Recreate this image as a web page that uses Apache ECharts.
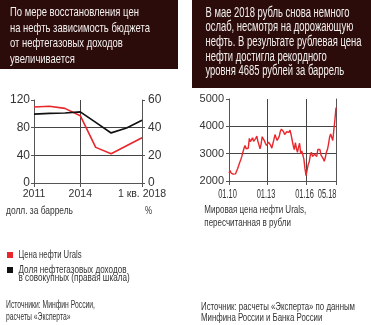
<!DOCTYPE html>
<html><head><meta charset="utf-8">
<script src="https://cdn.jsdelivr.net/npm/echarts@6/dist/echarts.min.js"></script>
<style>html,body{margin:0;padding:0;background:#fff}#c{width:371px;height:325px}</style>
</head><body><div id="c"></div>
<script>
// Left chart data
var yearCats = ['2011','2012','2013','2014','2015','2016','2017','1 кв. 2018'];
var uralsUsd = [109.8, 111.0, 107.9, 97.3, 51.5, 42.2, 53.8, 65.5];
var oilGasShare = [49.8, 50.4, 50.6, 51.4, 43.8, 36.2, 39.8, 45.4];
var leftTicksShown = [0, 3, 7];

// Right chart data (monthly, Jan 2010 – May 2018), rubles per barrel
var rubStartYear = 2010, rubStartMonth = 1, rubCount = 101;
var uralsRub2010 = [2300, 2380, 2290, 2320, 2250, 2220, 2260, 2300, 2450, 2560, 2680, 2780];
var uralsRub2011 = [2900, 3050, 3200, 3300, 3180, 3220, 3200, 3560, 3440, 3500, 3580, 3450];
var uralsRub2012 = [3500, 3560, 3640, 3450, 3320, 3180, 3350, 3620, 3550, 3480, 3380, 3300];
var uralsRub2013 = [3350, 3420, 3460, 3300, 3200, 3250, 3520, 3700, 3580, 3480, 3560, 3640];
var uralsRub2014 = [3820, 3900, 3850, 3800, 3700, 3760, 3800, 3740, 3780, 3860, 3700, 3500];
var uralsRub2015 = [3300, 3150, 3400, 3200, 3050, 3250, 3380, 3000, 3100, 2950, 2800, 2450];
var uralsRub2016 = [2200, 2400, 2600, 2700, 2950, 3050, 2900, 2920, 2980, 3050, 2900, 3150];
var uralsRub2017 = [3200, 3150, 2950, 2900, 2820, 2720, 2850, 3050, 3150, 3350, 3600, 3720];
var uralsRub2018 = [3650, 3480, 3880, 4250, 4685];
var rightTicksShown = [0, 36, 72, 100];
var rightLabelText = ['01.10', '01.13', '01.16', '05.18'];

var uralsRub = [].concat(uralsRub2010, uralsRub2011, uralsRub2012, uralsRub2013,
  uralsRub2014, uralsRub2015, uralsRub2016, uralsRub2017, uralsRub2018);
var months = [];
for (var i = 0; i < rubCount; i++) {
  var mm = (rubStartMonth - 1 + i) % 12 + 1;
  var yy = rubStartYear + Math.floor((rubStartMonth - 1 + i) / 12);
  months.push((mm < 10 ? '0' + mm : '' + mm) + '.' + String(yy).slice(2));
}

var RED = '#e8262b';
var GRID = '#444';
var AX = '#555';
var LBL = '#333';
var FONT = '"Liberation Sans", Arial, sans-serif';
var BOX = '#2b0c0b';

var mctx = document.createElement('canvas').getContext('2d');
function measure(s, size) { mctx.font = size + 'px ' + FONT; return mctx.measureText(s).width; }

// A block of text lines, condensed horizontally so that one reference line spans refWidth
function block(x, yCenters, lines, size, color, refIdx, refWidth) {
  var sx = refWidth / measure(lines[refIdx], size);
  return lines.map(function (s, k) {
    return {type: 'text', x: x, y: yCenters[k], scaleX: sx, scaleY: 1, silent: true,
      style: {text: s, fill: color, font: size + 'px ' + FONT, textAlign: 'left', textVerticalAlign: 'middle'}};
  });
}

var chart = echarts.init(document.getElementById('c'), null, {renderer: 'canvas'});

var graphics = [
  {type: 'rect', shape: {x: 0, y: 0, width: 178, height: 69}, style: {fill: BOX}, silent: true},
  {type: 'rect', shape: {x: 192, y: 0, width: 179, height: 88}, style: {fill: BOX}, silent: true},
  {type: 'rect', shape: {x: 7, y: 252, width: 6, height: 6}, style: {fill: RED}, silent: true},
  {type: 'rect', shape: {x: 7, y: 267, width: 6, height: 6}, style: {fill: '#111'}, silent: true}
].concat(
  block(10, [12.7, 28.3, 43.7, 59], ['По мере восстановления цен', 'на нефть зависимость бюджета',
    'от нефтегазовых доходов', 'увеличивается'], 13, '#f4f0ee', 1, 140),
  block(205.5, [12.7, 27.3, 41.9, 56.7, 71.2], ['В мае 2018 рубль снова немного',
    'ослаб, несмотря на дорожающую', 'нефть. В результате рублевая цена',
    'нефти достигла рекордного', 'уровня 4685 рублей за баррель'], 14, '#f4f0ee', 2, 156),
  block(6, [211.5], ['долл. за баррель'], 10.5, LBL, 0, 67),
  block(145, [211.5], ['%'], 10.5, LBL, 0, 7),
  block(18.5, [254.5], ['Цена нефти Urals'], 11, LBL, 0, 63),
  block(18.5, [269.5, 278.2], ['Доля нефтегазовых доходов', 'в совокупных (правая шкала)'], 11, LBL, 0, 108),
  block(6, [305.2, 316.8], ['Источники: Минфин России,', 'расчеты «Эксперта»'], 11, LBL, 0, 89),
  block(204.3, [210, 222.5], ['Мировая цена нефти Urals,', 'пересчитанная в рубли'], 11, LBL, 0, 102),
  block(201, [306.7, 317.5], ['Источник: расчеты «Эксперта» по данным', 'Минфина России и Банка России'], 11, LBL, 0, 154)
);

var labelFont = 12.5;
var labelScale = 18.7 / measure('01.10', labelFont);

var option = {
  animation: false,
  backgroundColor: '#fff',
  textStyle: {fontFamily: FONT},
  graphic: graphics,
  grid: [
    {left: 34, top: 100, width: 108, height: 83, containLabel: false},
    {left: 229, top: 99, width: 107, height: 82, containLabel: false}
  ],
  xAxis: [
    {gridIndex: 0, type: 'category', data: yearCats, boundaryGap: false,
      axisLine: {show: true, lineStyle: {color: AX, width: 1}},
      axisTick: {show: true, inside: false, length: 4, lineStyle: {color: AX},
        interval: function (i) { return leftTicksShown.indexOf(i) >= 0; }},
      axisLabel: {color: LBL, fontSize: 10.5, margin: 6, fontFamily: FONT,
        interval: function (i) { return leftTicksShown.indexOf(i) >= 0; }},
      splitLine: {show: true, lineStyle: {color: GRID, width: 1},
        interval: function (i) { return i === 3; }}
    },
    {gridIndex: 1, type: 'category', data: months, boundaryGap: false,
      axisLine: {show: true, lineStyle: {color: AX, width: 1}},
      axisTick: {show: true, length: 4, lineStyle: {color: AX},
        interval: function (i) { return rightTicksShown.indexOf(i) >= 0; }},
      axisLabel: {show: false},
      splitLine: {show: true, lineStyle: {color: GRID, width: 1},
        interval: function (i) { return i === 36 || i === 72; }}
    }
  ],
  yAxis: [
    {gridIndex: 0, type: 'value', min: 0, max: 120, interval: 40, position: 'left',
      axisLine: {show: true, lineStyle: {color: AX}},
      axisTick: {show: true, length: 3, lineStyle: {color: AX}},
      axisLabel: {color: LBL, fontSize: 12, margin: 4, fontFamily: FONT},
      splitLine: {show: true, lineStyle: {color: [GRID, GRID, GRID, 'rgba(0,0,0,0)'], width: 1}}
    },
    {gridIndex: 0, type: 'value', min: 0, max: 60, interval: 20, position: 'right',
      axisLine: {show: true, lineStyle: {color: AX}},
      axisTick: {show: true, length: 3, lineStyle: {color: AX}},
      axisLabel: {color: LBL, fontSize: 12, margin: 6, fontFamily: FONT},
      splitLine: {show: false}
    },
    {gridIndex: 1, type: 'value', min: 2000, max: 5000, interval: 1000, position: 'left',
      axisLine: {show: true, lineStyle: {color: AX}},
      axisTick: {show: true, length: 3, lineStyle: {color: AX}},
      axisLabel: {color: LBL, fontSize: 11, margin: 5, fontFamily: FONT,
        formatter: function (v) { return String(v); }},
      splitLine: {show: true, lineStyle: {color: [GRID, GRID, GRID, 'rgba(0,0,0,0)'], width: 1}}
    },
    {gridIndex: 1, type: 'value', min: 2000, max: 5000, interval: 1000, position: 'right',
      axisLine: {show: true, lineStyle: {color: AX}},
      axisTick: {show: false}, axisLabel: {show: false}, splitLine: {show: false}
    }
  ],
  series: [
    {name: 'Цена нефти Urals', type: 'line', xAxisIndex: 0, yAxisIndex: 0, data: uralsUsd,
      symbol: 'none', lineStyle: {color: RED, width: 1.6}, z: 3},
    {name: 'Доля нефтегазовых доходов', type: 'line', xAxisIndex: 0, yAxisIndex: 1, data: oilGasShare,
      symbol: 'none', lineStyle: {color: '#111', width: 1.7}, z: 4},
    {name: 'Urals, руб.', type: 'line', xAxisIndex: 1, yAxisIndex: 2, data: uralsRub,
      symbol: 'none', lineStyle: {color: RED, width: 1.4}, z: 3},
    {name: 'x-labels', type: 'custom', xAxisIndex: 1, yAxisIndex: 2, silent: true, clip: false,
      data: rightTicksShown.map(function (idx, k) { return [idx, 2000, k]; }),
      renderItem: function (params, api) {
        var k = api.value(2);
        var p = api.coord([api.value(0), api.value(1)]);
        var last = k === rightTicksShown.length - 1;
        return {type: 'text', x: p[0] + (last ? 0.5 : -1.5), y: p[1] + 13.5, scaleX: labelScale, scaleY: 1,
          style: {text: rightLabelText[k], fill: LBL, font: labelFont + 'px ' + FONT,
            textAlign: last ? 'right' : 'center', textVerticalAlign: 'middle'}};
      }}
  ]
};
chart.setOption(option);
</script></body></html>
